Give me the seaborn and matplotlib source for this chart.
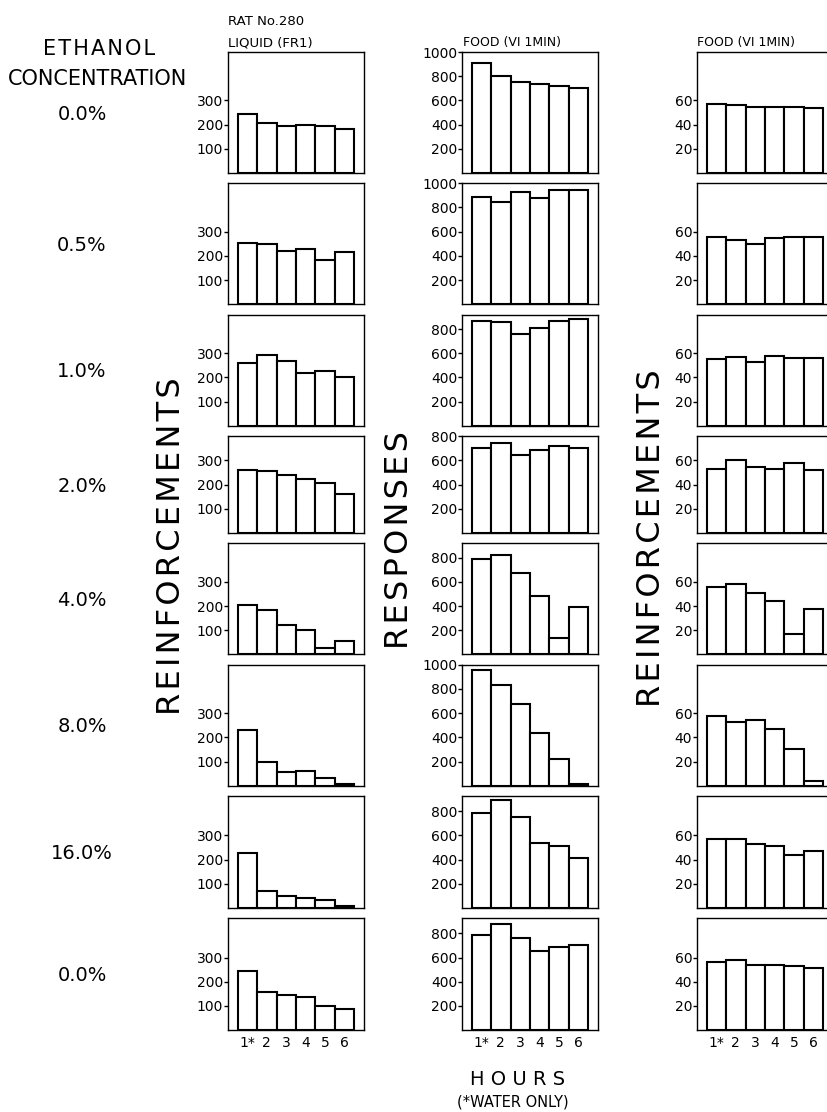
import matplotlib
matplotlib.use("Agg")
import matplotlib.pyplot as plt
import numpy as np
import pandas as pd
import seaborn as sns

# ---------------- data ----------------
hours = ["1*", "2", "3", "4", "5", "6"]
concentrations = ["0.0%", "0.5%", "1.0%", "2.0%", "4.0%", "8.0%", "16.0%", "0.0%"]

# Liquid (FR1) reinforcements, one list per ethanol concentration row
liquid_reinforcements = [
    [245, 208, 195, 200, 193, 180],
    [255, 248, 221, 228, 182, 214],
    [260, 292, 267, 217, 228, 203],
    [260, 254, 240, 224, 208, 160],
    [205, 185, 122, 100, 28, 55],
    [230, 100, 55, 62, 34, 6],
    [228, 72, 51, 40, 31, 10],
    [246, 156, 146, 136, 98, 87],
]

# Food (VI 1 min) responses
food_responses = [
    [910, 800, 755, 738, 718, 704],
    [890, 843, 925, 875, 945, 945],
    [870, 855, 755, 810, 870, 880],
    [700, 745, 640, 685, 715, 700],
    [790, 820, 675, 480, 135, 390],
    [955, 830, 675, 435, 225, 15],
    [785, 890, 755, 540, 510, 415],
    [790, 880, 765, 650, 685, 700],
]

# Food (VI 1 min) reinforcements
food_reinforcements = [
    [57, 56, 54.5, 54.5, 54.5, 54],
    [55.5, 53.5, 50, 55, 55.5, 56],
    [55.5, 57, 53, 58, 56, 56],
    [53, 60, 54.5, 52.5, 58, 52],
    [55.5, 58.5, 50.5, 44, 17, 38],
    [58, 52.5, 54.5, 47, 30, 4],
    [57, 57, 52.5, 51.5, 44, 47],
    [56.5, 58, 54, 53.5, 53, 51],
]

# axis upper limits of the response panels in each row
response_ymax = [1000, 1000, 920, 800, 920, 1000, 925, 925]

liquid_ticks = [100, 200, 300]
response_ticks = [200, 400, 600, 800, 1000]
food_reinf_ticks = [20, 40, 60]

# ---------------- style ----------------
sns.set_style("ticks")
plt.rcParams["font.family"] = ["DejaVu Sans"]
plt.rcParams["axes.linewidth"] = 1.0
plt.rcParams["axes.edgecolor"] = "black"
plt.rcParams["text.color"] = "black"
plt.rcParams["xtick.color"] = "black"
plt.rcParams["ytick.color"] = "black"
plt.rcParams["xtick.labelcolor"] = "black"
plt.rcParams["ytick.labelcolor"] = "black"

W, H = 828, 1112
fig = plt.figure(figsize=(W / 100, H / 100), dpi=100)
fig.patch.set_facecolor("white")

PT = 100 / 72.0
px_per_unit = 0.121
gap = 10.26
col_left = [228, 462, 697]
col_w = 136
top = 52.0

def fx(x):
    return x / W

def fy(y):
    return 1 - y / H

def ctext(x, y, s, size, ha="center", **kw):
    # place caps text with its visual centre at pixel (x, y)
    yb = y + 0.365 * size * PT
    fig.text(fx(x), fy(yb), s, ha=ha, va="baseline", fontsize=size,
             color="black", **kw)

HS = "\u200a"

for r in range(8):
    h = response_ymax[r] * px_per_unit
    series = [
        (liquid_reinforcements[r], response_ymax[r] / 2.0, liquid_ticks),
        (food_responses[r], response_ymax[r], [t for t in response_ticks if t <= response_ymax[r]]),
        (food_reinforcements[r], response_ymax[r] / 10.0, food_reinf_ticks),
    ]
    for c, (vals, ymax, ticks) in enumerate(series):
        ax = fig.add_axes([fx(col_left[c]), fy(top + h), col_w / W, h / H])
        df = pd.DataFrame({"hour": hours, "value": vals})
        sns.barplot(data=df, x="hour", y="value", color="white", saturation=1,
                    edgecolor="black", linewidth=1.5, width=1.0, errorbar=None, ax=ax)
        ax.set_xlim(-0.99, 5.99)
        ax.set_ylim(0, ymax)
        ax.set_yticks(ticks)
        ax.set_yticklabels([str(t) for t in ticks])
        ax.set_xlabel("")
        ax.set_ylabel("")
        ax.set_facecolor("white")
        for sp in ax.spines.values():
            sp.set_visible(True)
            sp.set_linewidth(1.0)
            sp.set_color("black")
        ax.tick_params(axis="y", direction="out", length=3, width=1, pad=0.5,
                       labelsize=10, colors="black")
        ax.tick_params(axis="x", length=0, pad=4, labelsize=10, colors="black")
        if r == 7:
            ax.set_xticks(range(len(hours)))
            ax.set_xticklabels(hours)
        else:
            ax.tick_params(axis="x", labelbottom=False)
    ctext(82, top + h / 2, concentrations[r], 14)
    top += h + gap

# ---------------- texts ----------------
ctext(99, 47, HS.join("ETHANOL"), 15)
ctext(98, 77, "CONCENTRATION", 15)
ctext(228, 20, "RAT No.280", 9.5, ha="left")
ctext(228, 42, "LIQUID (FR1)", 9.5, ha="left")
ctext(463, 41, "FOOD (VI 1MIN)", 9, ha="left")
ctext(697, 41, "FOOD (VI 1MIN)", 9, ha="left")

fig.text(fx(172), fy(546), HS.join("REINFORCEMENTS"), rotation=90,
         ha="center", va="center", fontsize=23, color="black")
fig.text(fx(400), fy(540), HS.join("RESPONSES"), rotation=90,
         ha="center", va="center", fontsize=23, color="black")
fig.text(fx(651), fy(538), HS.join("REINFORCEMENTS"), rotation=90,
         ha="center", va="center", fontsize=23, color="black")

ctext(518, 1078, "H O U R S", 14)
ctext(513, 1101, "(*WATER ONLY)", 10.5)

fig.savefig("out.png", dpi=100, facecolor="white")
